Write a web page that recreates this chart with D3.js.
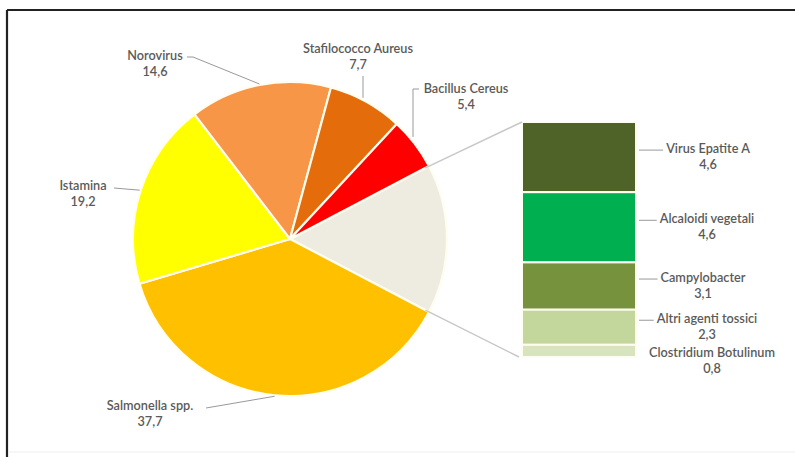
<!DOCTYPE html>
<html>
<head>
<meta charset="utf-8">
<script src="https://cdn.jsdelivr.net/npm/d3@7"></script>
<style>
  html, body { margin: 0; padding: 0; background: #fff; }
  svg { display: block; }
  text { font-family: Lato, "Open Sans", sans-serif; font-size: 12.7px; fill: #5a5a5a; font-weight: 600; }
</style>
</head>
<body>
<div id="chart"></div>
<script>
// ---- data ----
const pieCategories = ["Salmonella spp.", "Istamina", "Norovirus", "Stafilococco Aureus", "Bacillus Cereus"];
const pieValues     = [37.7, 19.2, 14.6, 7.7, 5.4];
const pieColors     = ["#FFC000", "#FFFF00", "#F79646", "#E46C0A", "#FF0000"];

const barCategories = ["Virus Epatite A", "Alcaloidi vegetali", "Campylobacter", "Altri agenti tossici", "Clostridium Botulinum"];
const barValues     = [4.6, 4.6, 3.1, 2.3, 0.8];
const barColors     = ["#4F6228", "#00B050", "#76923C", "#C3D69B", "#D7E4BD"];

const otherColor = "#EEECE1";
const fmt = v => String(v.toFixed(1)).replace(".", ",");

// ---- layout ----
const W = 795, H = 457;
const cx = 290, cy = 239, R = 157;
const svg = d3.select("#chart").append("svg").attr("width", W).attr("height", H);

// frame
svg.append("line").attr("x1", 7).attr("x2", W).attr("y1", 10).attr("y2", 10).attr("stroke", "#222").attr("stroke-width", 2.2);
svg.append("line").attr("x1", 7).attr("x2", 7).attr("y1", 10).attr("y2", H).attr("stroke", "#222").attr("stroke-width", 2.2);
svg.append("line").attr("x1", 8).attr("x2", W).attr("y1", 452).attr("y2", 452).attr("stroke", "#eee").attr("stroke-width", 1);

const otherTotal = d3.sum(barValues);
const total = d3.sum(pieValues) + otherTotal;
const otherAngle = otherTotal / total * 2 * Math.PI;

const pieData = [{name: "Altro", value: otherTotal, color: otherColor}]
  .concat(pieCategories.map((c, i) => ({name: c, value: pieValues[i], color: pieColors[i]})));

const start = Math.PI / 2 - otherAngle / 2;
const pie = d3.pie().value(d => d.value).sort(null).startAngle(start).endAngle(start + 2 * Math.PI);
const arcs = pie(pieData);
const arc = d3.arc().innerRadius(0).outerRadius(R);

const g = svg.append("g").attr("transform", `translate(${cx},${cy})`);
g.selectAll("path").data(arcs).join("path")
  .attr("d", arc)
  .attr("fill", d => d.data.color)
  .attr("stroke", "#fffdf0").attr("stroke-width", 2.2).attr("stroke-linejoin", "round");

const rimPt = (a, r = R) => [cx + r * Math.sin(a), cy - r * Math.cos(a)];

// ---- bar of pie ----
const barX = 522, barW = 114, barTop = 122, barBottom = 357;
const y = d3.scaleLinear().domain([0, otherTotal]).range([barTop, barBottom]);
const cum = d3.cumsum(barValues);
const barData = barCategories.map((c, i) => ({name: c, value: barValues[i], color: barColors[i], y0: cum[i] - barValues[i], y1: cum[i]}));

svg.append("g").selectAll("rect").data(barData).join("rect")
  .attr("x", barX).attr("width", barW)
  .attr("y", d => y(d.y0)).attr("height", d => y(d.y1) - y(d.y0))
  .attr("fill", d => d.color)
  .attr("stroke", "#fffdf0").attr("stroke-width", 2);

// connector lines
const oa = arcs[0];
const p1 = rimPt(oa.startAngle, R - 4), p2 = rimPt(oa.endAngle, R - 4);
svg.append("line").attr("x1", p1[0]).attr("y1", p1[1]).attr("x2", barX).attr("y2", y(0))
  .attr("stroke", "#c8c8c8").attr("stroke-width", 1.5);
svg.append("line").attr("x1", p2[0]).attr("y1", p2[1]).attr("x2", barX - 3).attr("y2", y(otherTotal))
  .attr("stroke", "#c8c8c8").attr("stroke-width", 1.5);

// ---- pie labels ----
const pieLabelPos = {
  "Salmonella spp.":     {x: 150, y: 410, lead: [[206, 408]]},
  "Istamina":            {x: 83,  y: 190, lead: [[114, 188]]},
  "Norovirus":           {x: 155, y: 60,  lead: [[187, 57], [193, 57]]},
  "Stafilococco Aureus": {x: 358, y: 53,  lead: [[363, 76]]},
  "Bacillus Cereus":     {x: 466, y: 93,  lead: [[419, 89], [413, 89]]}
};
const leadStroke = "#999";

arcs.slice(1).forEach(a => {
  const pos = pieLabelPos[a.data.name];
  const mid = (a.startAngle + a.endAngle) / 2;
  const rp = rimPt(mid, R + 1);
  let pts = pos.lead.slice();
  if (a.data.name === "Stafilococco Aureus") pts.push([pos.lead[0][0], rp[1] - 3]);
  else if (a.data.name === "Bacillus Cereus") pts.push([pos.lead[1][0], rp[1] - 6]);
  else pts.push(rp);
  svg.append("path").attr("d", d3.line()(pts)).attr("fill", "none").attr("stroke", leadStroke).attr("stroke-width", 1);
  const t = svg.append("text").attr("text-anchor", "middle").attr("x", pos.x).attr("y", pos.y);
  t.append("tspan").attr("x", pos.x).text(a.data.name);
  t.append("tspan").attr("x", pos.x).attr("dy", 16).text(fmt(a.data.value));
});

// ---- bar labels ----
const barLabelX = [708, 707, 703, 707, 712];
const barLabelOffset = [0, 0, 0, 0, 10];
barData.forEach((d, i) => {
  const my = (y(d.y0) + y(d.y1)) / 2;
  const ly = my + barLabelOffset[i];
  const t = svg.append("text").attr("text-anchor", "middle").attr("x", barLabelX[i]).attr("y", ly - 4);
  t.append("tspan").attr("x", barLabelX[i]).text(d.name);
  t.append("tspan").attr("x", barLabelX[i]).attr("dy", 16).text(fmt(d.value));
  if (i < 4) {
    const w = t.select("tspan").node().getComputedTextLength();
    svg.append("line").attr("x1", barX + barW + 3).attr("x2", barLabelX[i] - w / 2 - 3)
      .attr("y1", ly - 7).attr("y2", ly - 7).attr("stroke", leadStroke).attr("stroke-width", 1);
  }
});
</script>
</body>
</html>
